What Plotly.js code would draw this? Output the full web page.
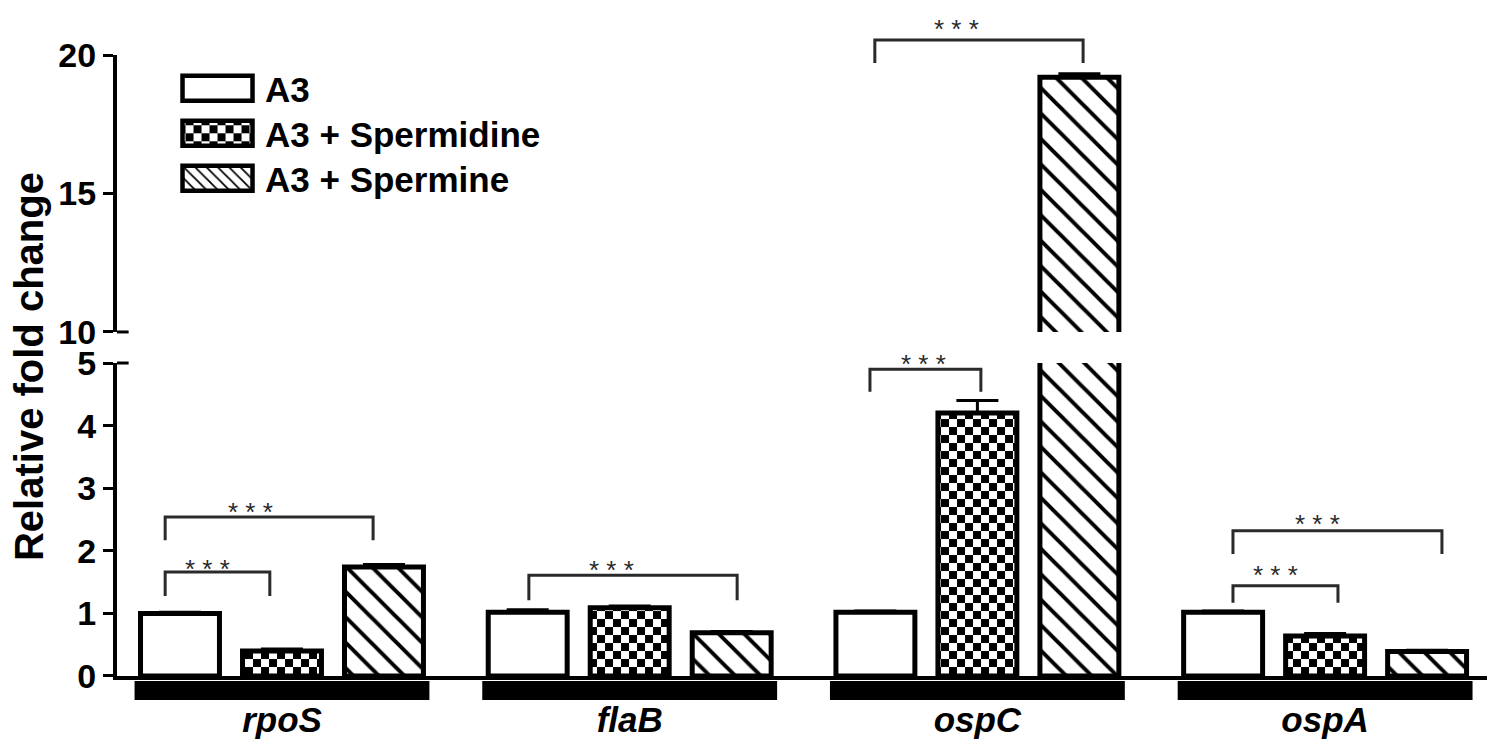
<!DOCTYPE html>
<html><head><meta charset="utf-8">
<script src="https://cdn.plot.ly/plotly-3.0.1.min.js"></script>
<style>html,body{margin:0;padding:0;background:#fff;}#chart{width:1487px;height:744px;}</style>
</head><body><div id="chart"></div>
<script>
// ---------- data ----------
const genes = ['rpoS', 'flaB', 'ospC', 'ospA'];
const seriesNames = ['A3', 'A3 + Spermidine', 'A3 + Spermine'];
const a3 = [1.00, 1.02, 1.02, 1.02];
const a3Err = [0.02, 0.04, 0.02, 0.02];
const spermidine = [0.40, 1.09, 4.20, 0.64];
const spermidineErr = [0.03, 0.03, 0.20, 0.04];
const spermine = [1.74, 0.69, 19.2, 0.39];
const spermineErr = [0.04, 0.02, 0.12, 0.02];
const lowerTicks = [0, 1, 2, 3, 4, 5];
const upperTicks = [10, 15, 20];
// significance brackets: gene index, left/right offsets, top, leg bottom, star x offset, star y, panel
const brGene  = [0, 0, 1, 2, 2, 3, 3];
const brX0    = [-0.336, -0.336, -0.290, -0.309, -0.295, -0.265, -0.265];
const brX1    = [-0.035, 0.262, 0.309, 0.010, 0.304, 0.037, 0.336];
const brTop   = [1.66, 2.54, 1.61, 4.90, 20.54, 1.44, 2.32];
const brLeg   = [1.28, 2.17, 1.21, 4.54, 19.71, 1.17, 1.95];
const brStarX = [-0.213, -0.092, -0.051, -0.156, -0.059, -0.144, -0.023];
const brStarY = [1.82, 2.73, 1.81, 5.10, 21.19, 1.73, 2.54];
const brPanel = ['low', 'low', 'low', 'low', 'up', 'low', 'low'];
const starText = '* * *';

// ---------- layout helpers ----------
const D_LOW = [0, 0.504];
const D_UP = [0.554, 1];
const LOW_RANGE = [0, 5];
const UP_RANGE = [10, 20];
function yLow(v) { return D_LOW[0] + (v - LOW_RANGE[0]) / (LOW_RANGE[1] - LOW_RANGE[0]) * (D_LOW[1] - D_LOW[0]); }
function yUp(v) { return D_UP[0] + (v - UP_RANGE[0]) / (UP_RANGE[1] - UP_RANGE[0]) * (D_UP[1] - D_UP[0]); }
function yP(panel, v) { return panel === 'up' ? yUp(v) : yLow(v); }

const FONT = 'Liberation Sans, Arial, Helvetica, sans-serif';
const CHECKER_KEY = '#000001';   // marks the pattern that becomes a checkerboard
const xIdx = genes.map((g, i) => i);
const values = [a3, spermidine, spermine];
const errs = [a3Err, spermidineErr, spermineErr];
const patterns = [
  null,
  {shape: '+', size: 16, solidity: 0.5, bgcolor: 'white', fgcolor: CHECKER_KEY},
  {shape: '\\', size: 18, solidity: 0.22, bgcolor: 'white', fgcolor: 'black'}
];

const traces = [];
['y', 'y2'].forEach((ya, k) => {
  values.forEach((vals, s) => {
    const marker = {color: 'white', line: {color: 'black', width: 5}};
    if (patterns[s]) marker.pattern = patterns[s];
    traces.push({
      type: 'bar',
      name: seriesNames[s],
      x: xIdx,
      y: vals,
      yaxis: ya,
      offsetgroup: String(s),
      marker: marker,
      error_y: {type: 'data', symmetric: false, array: errs[s], arrayminus: vals.map(() => 0),
                color: 'black', thickness: 3, width: 21},
      showlegend: k === 0,
      hoverinfo: 'skip'
    });
  });
});

const shapes = [];
const annotations = [];
// black bands under each gene
xIdx.forEach(i => {
  shapes.push({type: 'rect', xref: 'x', yref: 'paper', x0: i - 0.424, x1: i + 0.424,
    y0: -0.0386, y1: -0.008, fillcolor: 'black', line: {width: 0}});
});
// axis break marks
[D_LOW[1], D_UP[0]].forEach(py => {
  shapes.push({type: 'line', xref: 'paper', yref: 'paper', x0: 0, x1: 0.0085, y0: py, y1: py,
    line: {color: 'black', width: 3}});
});
// significance brackets
brGene.forEach((g, j) => {
  const p = brPanel[j];
  const x0 = g + brX0[j], x1 = g + brX1[j];
  const yt = yP(p, brTop[j]), yl = yP(p, brLeg[j]);
  shapes.push({type: 'path', xref: 'x', yref: 'paper',
    path: `M${x0},${yl} L${x0},${yt} L${x1},${yt} L${x1},${yl}`,
    line: {color: '#2a2a2a', width: 3}});
  annotations.push({xref: 'x', yref: 'paper', x: g + brStarX[j], y: yP(p, brStarY[j]),
    text: starText, showarrow: false, yshift: -7, xanchor: 'center', yanchor: 'middle',
    font: {family: FONT, size: 26, color: '#2a2a2a'}});
});
// y axis title
annotations.push({xref: 'paper', yref: 'paper', x: -0.0642, y: 0.4976, text: 'Relative fold change',
  textangle: -90, showarrow: false, xanchor: 'center', yanchor: 'middle',
  font: {family: FONT, size: 40, color: 'black', weight: 'bold'}});

const axisCommon = {showgrid: false, zeroline: false, showline: true, linecolor: 'black', linewidth: 4,
  ticks: 'outside', ticklen: 10, tickwidth: 3, tickcolor: 'black',
  tickfont: {family: FONT, size: 34, color: 'black', weight: 'bold'}, fixedrange: true};

const layout = {
  width: 1487, height: 744,
  margin: {l: 117, r: 0, t: 55, b: 68, pad: 0},
  paper_bgcolor: 'white', plot_bgcolor: 'white',
  barmode: 'group', bargap: 0.12, bargroupgap: 0.226,
  showlegend: true,
  legend: {x: 0.0387, y: 0.9935, xanchor: 'left', yanchor: 'top', bgcolor: 'rgba(0,0,0,0)',
    itemwidth: 85, traceorder: 'normal',
    font: {family: FONT, size: 35, color: 'black', weight: 'bold'}},
  xaxis: {type: 'linear', range: [-0.4745, 3.4656], showgrid: false, zeroline: false,
    showline: true, linecolor: 'black', linewidth: 4, ticks: '', tickvals: xIdx, ticktext: genes,
    ticklabelstandoff: 10, anchor: 'y',
    tickfont: {family: FONT, size: 35, color: 'black', weight: 'bold', style: 'italic'}, fixedrange: true},
  yaxis: Object.assign({}, axisCommon, {domain: D_LOW, range: LOW_RANGE, tickvals: lowerTicks, anchor: 'x'}),
  yaxis2: Object.assign({}, axisCommon, {domain: D_UP, range: UP_RANGE, tickvals: upperTicks, anchor: 'x'}),
  shapes: shapes,
  annotations: annotations
};

const LEGEND_STEP = 45;

function fillIds(root, out) {
  root.querySelectorAll('path').forEach(pa => {
    const f = (pa.style && pa.style.fill) || pa.getAttribute('fill') || '';
    const m = /url\(["']?#([^"')]+)["']?\)/.exec(f);
    if (m) out.add(m[1]);
  });
}

function fixup() {
  const gd = document.getElementById('chart');
  const ns = 'http://www.w3.org/2000/svg';
  const ids = new Set();
  // patterns referenced by the spermidine bars and its legend swatch
  const barTraces = gd.querySelectorAll('.barlayer .trace');
  [1, 4].forEach(i => { if (barTraces[i]) fillIds(barTraces[i], ids); });
  const legItems = gd.querySelectorAll('.legend .traces');
  if (legItems[1]) fillIds(legItems[1], ids);
  gd.querySelectorAll('pattern').forEach(p => {
    const html = p.outerHTML.toLowerCase();
    if (html.indexOf('0, 0, 1)') >= 0 || html.indexOf('0,0,1)') >= 0 || html.indexOf('000001') >= 0) ids.add(p.id);
  });
  ids.forEach(id => {
    const p = document.getElementById(id);
    if (!p || p.getAttribute('data-checker')) return;
    const sq = 8;
    p.setAttribute('width', 2 * sq); p.setAttribute('height', 2 * sq);
    p.removeAttribute('patternTransform');
    while (p.firstChild) p.removeChild(p.firstChild);
    const mk = (x, y, ww, hh, c) => {
      const r = document.createElementNS(ns, 'rect');
      r.setAttribute('x', x); r.setAttribute('y', y);
      r.setAttribute('width', ww); r.setAttribute('height', hh);
      r.setAttribute('fill', c);
      p.appendChild(r);
    };
    mk(0, 0, 2 * sq, 2 * sq, '#ffffff');
    mk(0, 0, sq, sq, '#000000');
    mk(sq, sq, sq, sq, '#000000');
    p.setAttribute('data-checker', '1');
  });
  // larger legend swatches
  gd.querySelectorAll('.legend .legendpoints path').forEach(path => {
    path.setAttribute('d', 'M-35,12.5H35V-12.5H-35Z');
    path.style.strokeWidth = '4.5px';
  });
  // tighter legend row spacing
  if (legItems.length) {
    const m = /translate\(\s*([-\d.]+)[ ,]+([-\d.]+)/.exec(legItems[0].getAttribute('transform') || '');
    const x0 = m ? parseFloat(m[1]) : 0, y0 = m ? parseFloat(m[2]) : 0;
    legItems.forEach((it, i) => it.setAttribute('transform', `translate(${x0},${y0 + i * LEGEND_STEP})`));
  }
}

const gd = document.getElementById('chart');
Plotly.newPlot(gd, traces, layout, {displayModeBar: false, responsive: false, staticPlot: true}).then(() => {
  fixup();
  gd.on('plotly_afterplot', fixup);
});
</script>
</body></html>
